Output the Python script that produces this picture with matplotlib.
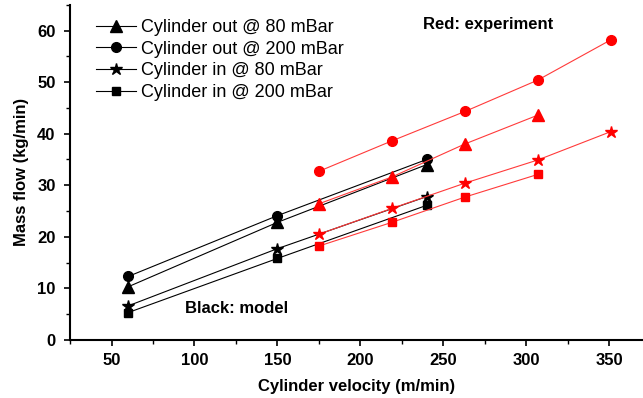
import matplotlib
matplotlib.use("Agg")
from matplotlib import pyplot as plt
from matplotlib.ticker import MultipleLocator

plt.rcParams['font.family'] = ['Liberation Sans', 'DejaVu Sans']

# model (black)
v_model = [60, 150, 240]
model_out_80 = [10.3, 22.8, 34.0]
model_out_200 = [12.3, 24.1, 35.0]
model_in_80 = [6.6, 17.7, 27.8]
model_in_200 = [5.3, 15.8, 26.1]

# experiment (red)
v_exp = [175, 219, 263, 307, 351]
exp_out_80 = [26.4, 31.6, 38.0, 43.6]
exp_out_200 = [32.7, 38.6, 44.3, 50.4, 58.2]
exp_in_80 = [20.5, 25.5, 30.4, 34.9, 40.4]
exp_in_200 = [18.2, 22.8, 27.7, 32.1]

labels = ['Cylinder out @ 80 mBar', 'Cylinder out @ 200 mBar',
          'Cylinder in @ 80 mBar', 'Cylinder in @ 200 mBar']
markers = ['^', 'o', '*', 's']
msizes = [8, 7, 9, 6]

fig = plt.figure(figsize=(6.43, 3.98), dpi=100)
ax = fig.add_axes([0.109, 0.146, 0.89, 0.842])

model = [model_out_80, model_out_200, model_in_80, model_in_200]
exp = [exp_out_80, exp_out_200, exp_in_80, exp_in_200]

for ys, m, ms, lab in zip(model, markers, msizes, labels):
    ax.plot(v_model, ys, color='black', lw=0.8, marker=m, ms=ms, label=lab)
for ys, m, ms in zip(exp, markers, msizes):
    ax.plot(v_exp[:len(ys)], ys, color='#ff3a3a', lw=0.8, marker=m, ms=ms,
            mfc='red', mec='red')

ax.set_xlim(25, 370)
ax.set_ylim(0, 65)
ax.xaxis.set_minor_locator(MultipleLocator(25))
ax.yaxis.set_minor_locator(MultipleLocator(5))
ax.set_xticks([50, 100, 150, 200, 250, 300, 350])
ax.set_yticks([0, 10, 20, 30, 40, 50, 60])
ax.tick_params(which='major', direction='out', length=4.5, width=1.2, labelsize=12)
ax.tick_params(axis='y', which='major', pad=6)
ax.tick_params(axis='x', which='major', pad=5)
ax.tick_params(which='minor', direction='out', length=3, width=1.0)
for lbl in ax.get_xticklabels() + ax.get_yticklabels():
    lbl.set_fontweight('bold')

for s in ['top', 'right']:
    ax.spines[s].set_visible(False)
for s in ['left', 'bottom']:
    ax.spines[s].set_linewidth(1.5)

ax.set_xlabel('Cylinder velocity (m/min)', fontsize=12, fontweight='bold', labelpad=8)
ax.set_ylabel('Mass flow (kg/min)', fontsize=12, fontweight='bold', labelpad=6)

ax.text(237.5, 61.2, 'Red: experiment', fontsize=12, fontweight='bold', va='center')
ax.text(94.5, 6.0, 'Black: model', fontsize=12, fontweight='bold', va='center')

ax.legend(loc='upper left', bbox_to_anchor=(0.026, 0.99), frameon=False,
          fontsize=13, handlelength=2.2, handletextpad=0.3, labelspacing=0.26,
          borderaxespad=0.2)

fig.savefig('out.png', dpi=100)
